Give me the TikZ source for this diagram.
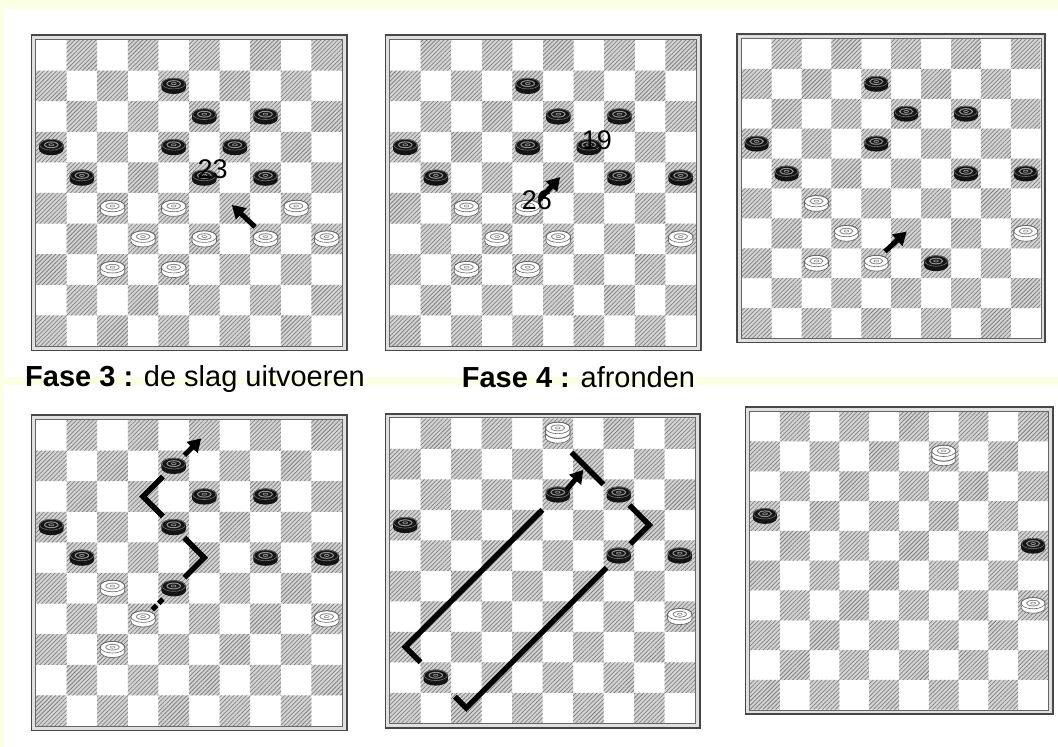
\documentclass[tikz,border=0pt]{standalone}
\usepackage{fontspec}
\setmainfont{Liberation Sans}
\usetikzlibrary{patterns.meta,arrows.meta}
\definecolor{bgy}{RGB}{253,255,228}
\tikzset{
  hatchsq/.style={fill=black!17, postaction={pattern={Lines[angle=45,distance=3pt,line width=0.75pt]}, pattern color=black!50}},
  pics/bp/.style={code={
    \fill[black!92] (-0.4,-0.075) -- (-0.4,0.075) arc[start angle=180,end angle=0,x radius=0.4,y radius=0.19] -- (0.4,-0.075) arc[start angle=0,end angle=-180,x radius=0.4,y radius=0.19] -- cycle;
    \draw[black!55, line width=0.6pt] (0,-0.075) ellipse[x radius=0.38,y radius=0.175];
    \draw[black!42, line width=1pt] (0,-0.075) ellipse[x radius=0.22,y radius=0.095];
    \draw[black!42, line width=0.7pt] (0,-0.075) ellipse[x radius=0.08,y radius=0.035];
  }},
  pics/wp/.style={code={
    \filldraw[fill=white, draw=black!60, line width=0.7pt] (-0.4,-0.075) -- (-0.4,0.075) arc[start angle=180,end angle=0,x radius=0.4,y radius=0.19] -- (0.4,-0.075) arc[start angle=0,end angle=-180,x radius=0.4,y radius=0.19] -- cycle;
    \draw[black!60, line width=0.6pt] (0,-0.075) ellipse[x radius=0.4,y radius=0.19];
    \draw[black!45, line width=0.9pt] (0,-0.075) ellipse[x radius=0.22,y radius=0.095];
    \draw[black!45, line width=0.6pt] (0,-0.075) ellipse[x radius=0.08,y radius=0.035];
  }},
  pics/wk/.style={code={
    \pic at (0,0.1) {wp};
    \pic at (0,-0.06) {wp};
  }},
  mv/.style={line width=5pt, -{Triangle[length=13pt,width=15pt]}},
  capline/.style={line width=5.5pt, line join=miter},
  numlbl/.style={font=\fontsize{27}{27}\selectfont, inner sep=0pt},
  title/.style={font=\fontsize{29}{30}\selectfont, anchor=base west, inner sep=0pt},
}
\newcommand\checkerboard{%
  \fill[white] (0,0) rectangle (10,10);
  \path[hatchsq] \foreach \r in {0,...,9}{\foreach \k in {0,...,4}{({2*\k+mod(\r+1,2)},\r) rectangle ++(1,1)}};
  \draw[line width=2.6pt, black!12] ([shift={(-2.4pt,2.4pt)}]0,0) rectangle ([shift={(2.4pt,-2.4pt)}]10,10);
  \draw[line width=1.8pt, black!72] ([shift={(-4.6pt,4.6pt)}]0,0) rectangle ([shift={(4.6pt,-4.6pt)}]10,10);
  \draw[line width=0.8pt, black!60] ([shift={(-0.6pt,0.6pt)}]0,0) rectangle ([shift={(0.6pt,-0.6pt)}]10,10);
}
\begin{document}
\begin{tikzpicture}
\useasboundingbox (0,0) rectangle (1058pt,747pt);
\fill[white] (0,0) rectangle (1058pt,747pt);
\fill[bgy] (0,738pt) rectangle (1058pt,747pt);
\fill[bgy] (0,0) rectangle (4pt,747pt);
\fill[bgy] (0,362pt) rectangle (1058pt,370pt);

% ---------- Board 1 ----------
\begin{scope}[shift={(36pt,707pt)}, x=30.6pt, y=-30.6pt]
  \checkerboard
  \foreach \c/\r in {4/1,5/2,7/2,0/3,4/3,6/3,1/4,5/4,7/4} \pic at (\c+0.5,\r+0.5) {bp};
  \foreach \c/\r in {2/5,4/5,8/5,3/6,5/6,7/6,9/6,2/7,4/7} \pic at (\c+0.5,\r+0.5) {wp};
  \coordinate (b1s) at (7.16,6.11);
  \coordinate (b1e) at (6.4,5.39);
  \draw[mv] (b1s) -- (b1e);
  \node[numlbl] (n23) at (5.77,4.23) {23};
\end{scope}

% ---------- Board 2 ----------
\begin{scope}[shift={(390pt,707pt)}, x=30.6pt, y=-30.6pt]
  \checkerboard
  \foreach \c/\r in {4/1,5/2,7/2,0/3,4/3,6/3,1/4,7/4,9/4} \pic at (\c+0.5,\r+0.5) {bp};
  \foreach \c/\r in {2/5,4/5,3/6,5/6,9/6,2/7,4/7} \pic at (\c+0.5,\r+0.5) {wp};
  \coordinate (b2s) at (4.9,5.2);
  \coordinate (b2e) at (5.56,4.48);
  \draw[mv] (b2s) -- (b2e);
  \node[numlbl] (n19) at (6.76,3.27) {19};
  \node[numlbl] (n26) at (4.8,5.23) {26};
\end{scope}

% ---------- Board 3 ----------
\begin{scope}[shift={(741.7pt,708pt)}, x=29.9pt, y=-29.9pt]
  \checkerboard
  \foreach \c/\r in {4/1,5/2,7/2,0/3,4/3,1/4,7/4,9/4,6/7} \pic at (\c+0.5,\r+0.5) {bp};
  \foreach \c/\r in {2/5,3/6,9/6,2/7,4/7} \pic at (\c+0.5,\r+0.5) {wp};
  \coordinate (b3s) at (4.79,7.11);
  \coordinate (b3e) at (5.52,6.44);
  \draw[mv] (b3s) -- (b3e);
\end{scope}

% ---------- Board 4 ----------
\begin{scope}[shift={(36pt,327pt)}, x=30.6pt, y=-30.6pt]
  \checkerboard
  \foreach \c/\r in {4/1,5/2,7/2,0/3,4/3,1/4,7/4,9/4,4/5} \pic at (\c+0.5,\r+0.5) {bp};
  \foreach \c/\r in {2/5,3/6,9/6,2/7} \pic at (\c+0.5,\r+0.5) {wp};
  \coordinate (p1) at (3.8,6.2);
  \coordinate (p2) at (4.17,5.83);
  \coordinate (p3) at (4.85,5.15);
  \coordinate (p4) at (5.5,4.5);
  \coordinate (p5) at (4.85,3.85);
  \coordinate (p6) at (4.15,3.15);
  \coordinate (p7) at (3.5,2.5);
  \coordinate (p8) at (4.15,1.85);
  \coordinate (p9) at (4.85,1.15);
  \coordinate (p10) at (5.4,0.6);
  \draw[line width=5pt, dash pattern=on 6pt off 3pt] (p1) -- (p2);
  \draw[capline] (p3) -- (p4) -- (p5);
  \draw[capline] (p6) -- (p7) -- (p8);
  \draw[mv] (p9) -- (p10);
\end{scope}

% ---------- Board 5 ----------
\begin{scope}[shift={(390pt,328.7pt)}, x=30.5pt, y=-30.5pt]
  \checkerboard
  \pic at (5.5,0.45) {wk};
  \foreach \c/\r in {5/2,7/2,0/3,7/4,9/4,1/8} \pic at (\c+0.5,\r+0.5) {bp};
  \pic at (9.5,6.5) {wp};
  \coordinate (q1) at (5.95,1.12);
  \coordinate (q2) at (7.0,2.17);
  \coordinate (q3) at (7.85,2.85);
  \coordinate (q4) at (8.5,3.5);
  \coordinate (q5) at (7.88,4.12);
  \coordinate (q6) at (7.1,4.9);
  \coordinate (q7) at (2.5,9.5);
  \coordinate (q8) at (2.13,9.13);
  \coordinate (q9) at (1.0,8.0);
  \coordinate (q10) at (0.5,7.5);
  \coordinate (q11) at (5.0,3.0);
  \coordinate (q12) at (5.79,2.35);
  \coordinate (q13) at (6.34,1.69);
  \draw[capline] (q1) -- (q2);
  \draw[capline] (q3) -- (q4) -- (q5);
  \draw[capline] (q6) -- (q7) -- (q8);
  \draw[capline] (q9) -- (q10) -- (q11);
  \draw[mv] (q12) -- (q13);
\end{scope}

% ---------- Board 6 ----------
\begin{scope}[shift={(750pt,335.3pt)}, x=29.8pt, y=-29.8pt]
  \checkerboard
  \pic at (6.5,1.45) {wk};
  \foreach \c/\r in {0/3,9/4} \pic at (\c+0.5,\r+0.5) {bp};
  \pic at (9.5,6.5) {wp};
\end{scope}

\node[title] (t3) at (25pt,360pt) {\textbf{Fase 3 :} de slag uitvoeren};
\node[title] (t4) at (461.7pt,359pt) {\textbf{Fase 4 :} afronden};
\end{tikzpicture}
\end{document}
